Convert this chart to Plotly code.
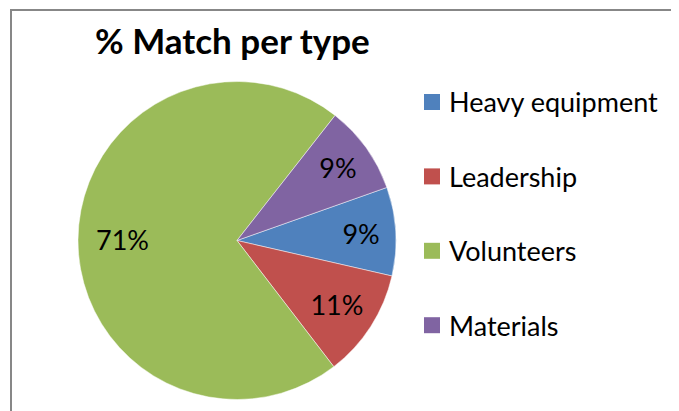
import math
import plotly.graph_objects as go

categories = ["Heavy equipment", "Leadership", "Volunteers", "Materials"]
values = [9, 11, 71, 9]
colors = ["#4F81BD", "#C0504D", "#9BBB59", "#8064A2"]
title_text = "% Match per type"

# page has an 8px body margin; size the figure to fit the window exactly
OFF = 8
W, H = 679 - OFF, 411 - OFF
FONT = "Lato, 'DejaVu Sans', sans-serif"


def px(x):
    return (x - OFF) / W


def py(y):
    return 1 - (y - OFF) / H


CX, CY, R = 237, 240.5, 159
ROT = 70.5

# percentages shown by plotly inside the small slices; big slice labelled by annotation
big = max(range(len(values)), key=lambda i: values[i])
textpos = ["none" if i == big else "inside" for i in range(len(values))]

fig = go.Figure()
fig.add_trace(go.Pie(
    labels=categories,
    values=values,
    sort=False,
    direction="clockwise",
    rotation=ROT,
    marker=dict(colors=colors, line=dict(color="rgba(255,255,255,0.6)", width=0.8)),
    texttemplate="%{percent:.0%}",
    textposition=textpos,
    insidetextorientation="horizontal",
    textfont=dict(family=FONT, size=27, color="black"),
    showlegend=False,
    hoverinfo="label+percent",
    domain=dict(x=[px(CX - R), px(CX + R)], y=[py(CY + R), py(CY - R)]),
))

shapes = [
    dict(type="rect", xref="paper", yref="paper",
         x0=px(11), x1=1.2, y0=-0.2, y1=py(10),
         line=dict(color="#878787", width=2), fillcolor="rgba(0,0,0,0)")
]
annotations = [
    dict(text="<b>" + title_text + "</b>", xref="paper", yref="paper",
         x=px(232.5), y=py(40), xanchor="center", yanchor="middle",
         showarrow=False, font=dict(family=FONT, size=35, color="black"))
]

# label for the largest slice at its mid-angle
total = sum(values)
start = ROT + 360 * sum(values[:big]) / total
mid = math.radians(start + 180 * values[big] / total)
rr = 0.72 * R
annotations.append(dict(
    text=f"{round(100 * values[big] / total)}%", xref="paper", yref="paper",
    x=px(CX + rr * math.sin(mid)), y=py(CY - rr * math.cos(mid)),
    xanchor="center", yanchor="middle", showarrow=False,
    font=dict(family=FONT, size=27, color="black")))

leg_x0, leg_y0, leg_gap, sq = 424, 102, 74.4, 16
for i, (lab, col) in enumerate(zip(categories, colors)):
    yc = leg_y0 + i * leg_gap
    shapes.append(dict(type="rect", xref="paper", yref="paper",
                       x0=px(leg_x0), x1=px(leg_x0 + sq),
                       y0=py(yc + sq / 2), y1=py(yc - sq / 2),
                       line=dict(width=0), fillcolor=col))
    annotations.append(dict(text=lab, xref="paper", yref="paper",
                            x=px(447), y=py(yc), xanchor="left", yanchor="middle",
                            showarrow=False,
                            font=dict(family=FONT, size=27, color="black")))

fig.update_layout(
    width=W, height=H,
    margin=dict(l=0, r=0, t=0, b=0),
    paper_bgcolor="white",
    plot_bgcolor="white",
    shapes=shapes,
    annotations=annotations,
)

fig.write_html("out.html")
